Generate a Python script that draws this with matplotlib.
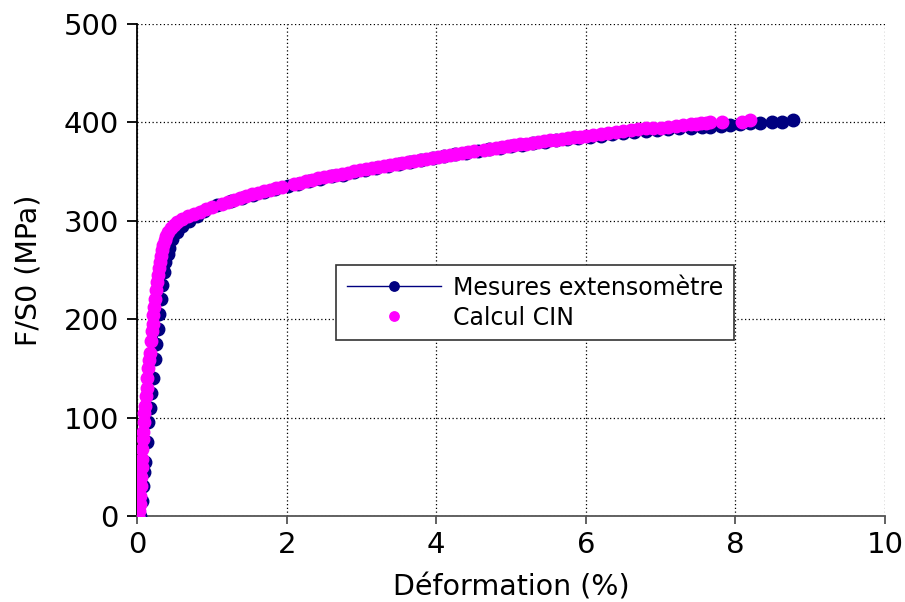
import matplotlib
matplotlib.use("Agg")
import matplotlib.pyplot as plt

# Mesures extensometre (strain %, stress MPa)
ext_x = [0.04, 0.06, 0.08, 0.10, 0.11, 0.13, 0.15, 0.17, 0.19, 0.21, 0.24, 0.26, 0.28,
         0.30, 0.32, 0.34, 0.36, 0.38, 0.41, 0.43, 0.47, 0.53, 0.60, 0.70, 0.80, 0.90,
         1.07, 1.25, 1.40, 1.55, 1.70, 1.85, 2.02, 2.15, 2.30, 2.45, 2.60, 2.75, 2.90,
         3.05, 3.20, 3.35, 3.50, 3.65, 3.80, 3.95, 4.10, 4.25, 4.40, 4.56, 4.70, 4.85,
         5.00, 5.15, 5.30, 5.45, 5.60, 5.75, 5.90, 6.05, 6.20, 6.35, 6.50, 6.65, 6.80,
         6.95, 7.10, 7.25, 7.40, 7.55, 7.66, 7.80, 7.93, 8.06, 8.20, 8.33, 8.49, 8.62, 8.77]
ext_y = [0, 15, 30, 45, 55, 75, 95, 110, 125, 140, 160, 175, 190,
         205, 220, 235, 248, 258, 266, 272, 281, 289, 295, 300, 305, 310,
         316, 320, 323, 326, 329, 332, 335, 337, 340, 342, 345, 347, 350,
         352, 354, 356, 358, 360, 362, 364, 366, 368, 369, 371, 373, 374,
         376, 377, 379, 380, 382, 383, 384, 385, 386.5, 388, 389, 390, 391,
         392, 393, 394, 394.5, 395, 395.5, 396, 397, 398, 399, 399.7, 400.2, 400.7, 402]

# Calcul CIN
cin_x = [0.03, 0.03, 0.04, 0.04, 0.05, 0.05, 0.06, 0.06, 0.07, 0.08, 0.08, 0.09, 0.10,
         0.11, 0.12, 0.13, 0.14, 0.15, 0.16, 0.17, 0.19, 0.20, 0.21, 0.22, 0.23, 0.24,
         0.26, 0.27, 0.28, 0.30, 0.31, 0.32, 0.34, 0.35, 0.37, 0.39, 0.42, 0.45, 0.49,
         0.54, 0.60, 0.68, 0.76, 0.84, 0.92, 1.00, 1.14, 1.22, 1.30, 1.38, 1.46, 1.54,
         1.62, 1.70, 1.78, 1.86, 1.94, 2.10, 2.18, 2.26, 2.34, 2.42, 2.50, 2.58, 2.66,
         2.74, 2.82, 2.90, 2.98, 3.06, 3.14, 3.22, 3.30, 3.38, 3.46, 3.54, 3.62, 3.70,
         3.78, 3.86, 3.94, 4.02, 4.10, 4.18, 4.26, 4.34, 4.42, 4.50, 4.64, 4.72, 4.80,
         4.88, 4.96, 5.04, 5.12, 5.20, 5.28, 5.36, 5.44, 5.52, 5.60, 5.68, 5.76, 5.84,
         5.92, 6.00, 6.10, 6.20, 6.30, 6.40, 6.50, 6.60, 6.70, 6.80, 6.90, 7.00, 7.10,
         7.20, 7.30, 7.40, 7.47, 7.54, 7.60, 7.66, 7.82, 8.09, 8.20]
cin_y = [-3, 5, 12, 20, 30, 40, 50, 58, 68, 78, 85, 95, 105,
         112, 122, 130, 140, 150, 158, 166, 178, 188, 195, 204, 212, 220,
         230, 238, 245, 252, 258, 264, 270, 275, 280, 285, 289, 293, 296,
         299, 302, 305, 307, 309, 312, 314, 317, 319, 321, 323, 325, 327,
         328, 330, 331, 333, 334, 337, 338, 340, 341, 343, 344, 345, 347,
         348, 349, 351, 352, 353, 354, 355, 356, 357, 358, 359, 360, 361,
         362, 363, 364, 365, 366, 367, 368, 369, 370, 371, 372, 373, 374,
         375, 376, 377, 378, 378, 379, 380, 381, 382, 382, 383, 384, 385,
         385, 386, 387, 388, 389, 390, 391, 392, 393, 394, 394, 394.5, 395.5,
         396, 397, 398, 398.5, 399, 399.5, 400, 400.7, 400.7, 402]

plt.rcParams['font.family'] = 'DejaVu Sans'
fig = plt.figure(figsize=(9.05, 6.02), dpi=100)
ax = fig.add_axes([0.1514, 0.1429, 0.8266, 0.8173])

ax.plot(ext_x, ext_y, color='#000080', lw=1, marker='o', ms=9, mec='#000080',
        mfc='#000080', label='Mesures extensomètre', zorder=3)
ax.plot(cin_x, cin_y, ls='none', marker='o', ms=9, color='#ff00ff',
        label='Calcul CIN', zorder=4)

ax.set_xlim(0, 10)
ax.set_ylim(0, 500)
ax.set_xticks([0, 2, 4, 6, 8, 10])
ax.set_yticks([0, 100, 200, 300, 400, 500])
ax.grid(True, ls=(0, (1, 2)), color='black', lw=0.9)
ax.set_axisbelow(True)

for s in ['top', 'right']:
    ax.spines[s].set_visible(False)
ax.spines['left'].set_color('black')
ax.spines['left'].set_linewidth(1.3)
ax.spines['bottom'].set_color('#555555')
ax.spines['bottom'].set_linewidth(1.3)

ax.tick_params(axis='y', direction='out', length=7, width=1.3, labelsize=21, colors='black', pad=6)
ax.tick_params(axis='x', direction='out', length=6, width=1.3, labelsize=21, color='#555555', pad=5)

ax.set_xlabel('Déformation (%)', fontsize=20.5, labelpad=10)
ax.set_ylabel('F/S0 (MPa)', fontsize=20.5, labelpad=15)

leg = ax.legend(loc='upper left', bbox_to_anchor=(0.266, 0.51), borderaxespad=0,
                fontsize=17, handlelength=4.0, handletextpad=0.5, markerscale=0.75,
                fancybox=False, framealpha=1, borderpad=0.45, labelspacing=0.25)
leg.get_frame().set_edgecolor('#333333')
leg.get_frame().set_linewidth(1.2)

fig.savefig('out.png', dpi=100)
